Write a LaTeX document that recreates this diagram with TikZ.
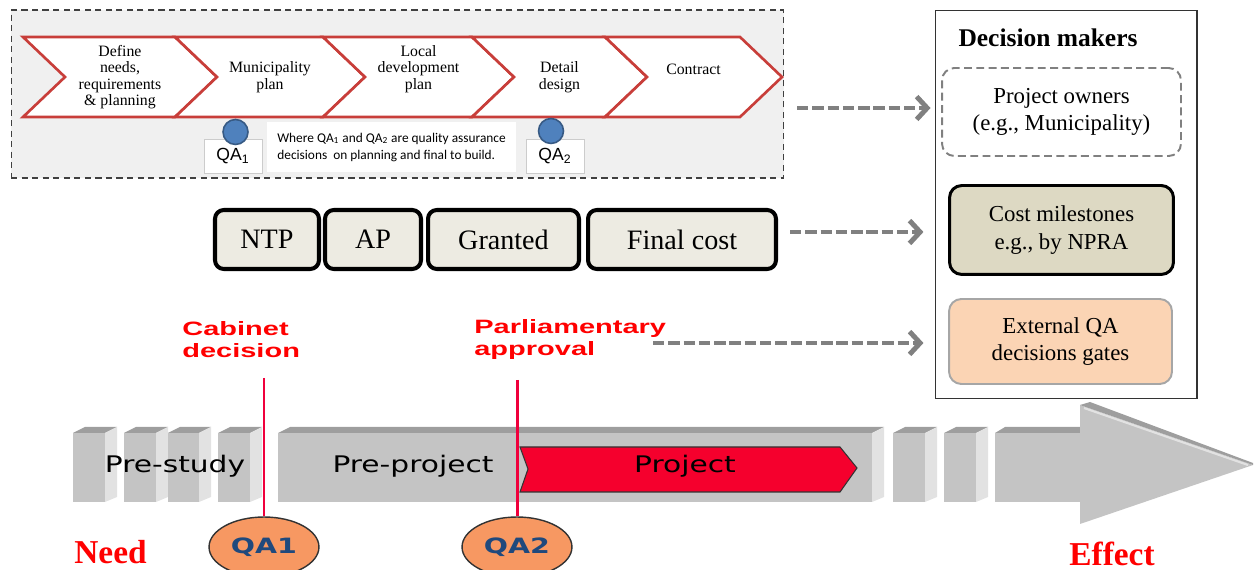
\documentclass[tikz,border=0pt]{standalone}
\usepackage{fontspec}
\setmainfont{Liberation Serif}
\newfontfamily\arialfont{Liberation Sans}
\newfontfamily\calibrifont{Carlito}
\newfontfamily\redlabelfont[FakeStretch=1.5]{Liberation Sans}
\newfontfamily\phasefont[FakeStretch=1.3]{DejaVu Sans}
\newfontfamily\qafont[FakeStretch=1.35]{DejaVu Sans}
\usetikzlibrary{arrows.meta,shapes.geometric,positioning}

\definecolor{chevred}{RGB}{200,62,58}
\definecolor{dotblue}{RGB}{79,129,189}
\definecolor{costfill}{RGB}{237,235,226}
\definecolor{milefill}{RGB}{221,217,195}
\definecolor{extfill}{RGB}{251,212,180}
\definecolor{arrowgray}{RGB}{128,128,128}
\definecolor{qared}{RGB}{240,0,60}
\definecolor{qaorange}{RGB}{247,152,98}
\definecolor{qablue}{RGB}{31,73,125}
\definecolor{projred}{RGB}{245,0,45}
\definecolor{barfront}{RGB}{196,196,196}
\definecolor{bartop}{RGB}{158,158,158}
\definecolor{barside}{RGB}{226,226,226}

% one grey block of the phase bar: front, top face, side face
\newcommand\greyblock[2]{%
  \fill[barfront] (#1,433) rectangle (#2,502);
  \fill[bartop] (#1,433) -- (#1+12,427) -- (#2+12,427) -- (#2,433) -- cycle;
  \fill[barside] (#2,433) -- (#2+12,427) -- (#2+12,497) -- (#2,502) -- cycle;}

\begin{document}
\begin{tikzpicture}[x=0.02cm, y=-0.02cm,
  chevron/.style={draw=chevred, line width=1.5pt, fill=white, line join=miter},
  steplabel/.style={align=center, font=\fontsize{9}{9.4}\selectfont},
  qadot/.style={circle, draw=dotblue!70!black, line width=0.9pt, fill=dotblue, minimum size=0.5cm, inner sep=0pt},
  qabox/.style={draw=black!20, fill=white, minimum width=1.16cm, minimum height=0.68cm, font=\arialfont\fontsize{10}{11}\selectfont},
  costbox/.style={draw=black, line width=2.3pt, rounded corners=5pt, fill=costfill, minimum height=1.18cm, font=\fontsize{16}{18}\selectfont},
  makerbox/.style={rounded corners=7pt, align=center, font=\fontsize{13}{15.5}\selectfont},
  flowarrow/.style={draw=arrowgray, line width=2.8pt, dash pattern=on 6.5pt off 2.2pt, -{Straight Barb[length=6pt,width=13pt]}},
  redlabel/.style={anchor=west, align=left, inner sep=0pt, text=red, font=\redlabelfont\bfseries\fontsize{11}{12.5}\selectfont},
  qaline/.style={draw=qared, line width=1.7pt},
  qagate/.style={ellipse, draw=black!80, line width=0.8pt, fill=qaorange, minimum width=2cm, minimum height=1.2cm, text=qablue, font=\qafont\bfseries\fontsize{12}{14}\selectfont},
  phase/.style={font=\phasefont\fontsize{13}{15}\selectfont},
  endlabel/.style={anchor=base, text=red, font=\bfseries\fontsize{19}{22}\selectfont}
]
\useasboundingbox (0,0) rectangle (1254,570);

% planning steps
\node (phases) [draw=black!75, line width=0.6pt, dash pattern=on 3.5pt off 2.5pt, fill=black!6, minimum width=15.46cm, minimum height=3.36cm, inner sep=0pt] at (397.5,94) {};

\foreach \x/\w/\ly/\txt [count=\i] in {23/152/77/{Define\\needs,\\requirements\\\& planning}, 175/148/77/{Municipality\\plan}, 323/149/69/{Local\\development\\plan}, 472/133/77/{Detail\\design}, 605/135/69/{Contract}}{
  \draw[chevron] (\x,37) -- ++(\w,0) -- ++(42,40) -- ++(-42,40) -- ++(-\w,0) -- ++(42,-40) -- cycle;
  \node (step\i) [steplabel] at (\x+\w/2+21,\ly) {\txt};
}

\node (qa1box) [qabox] at (233,156.5) {QA\textsubscript{1}};
\node (qa1dot) [qadot] at (235.5,132) {};
\node (qa2box) [qabox] at (555,156.5) {QA\textsubscript{2}};
\node (qa2dot) [qadot] at (551,131) {};
\node (note) [fill=white, anchor=west, align=left, inner xsep=0.2cm, minimum height=1cm, font=\calibrifont\fontsize{7.6}{10}\selectfont] at (267,147.5) {Where QA\textsubscript{1} and QA\textsubscript{2} are quality assurance\\decisions\ \ on planning and final to build.};

% cost milestones
\node (ntp) [costbox, minimum width=2.08cm] at (267,239.5) {NTP};
\node (ap) [costbox, minimum width=1.92cm] at (373,239.5) {AP};
\node (granted) [costbox, minimum width=3.02cm] at (503.5,239.5) {Granted};
\node (final) [costbox, minimum width=3.76cm] at (682,239.5) {Final cost};

% decision makers
\node (makers) [draw=black!80, line width=0.6pt, minimum width=5.24cm, minimum height=7.78cm] at (1066,204.5) {};
\node (makerstitle) [anchor=base, font=\bfseries\fontsize{14.5}{17}\selectfont] at (1048,47) {Decision makers};
\node (owners) [makerbox, draw=black!50, line width=1.1pt, dash pattern=on 4.5pt off 2.5pt, minimum width=4.78cm, minimum height=1.76cm] at (1061.5,112) {Project owners\\(e.g., Municipality)};
\node (milestones) [makerbox, draw=black, line width=1.7pt, fill=milefill, minimum width=4.48cm, minimum height=1.78cm] at (1061.5,230) {Cost milestones\\e.g., by NPRA};
\node (external) [makerbox, draw=black!35, line width=1.1pt, fill=extfill, minimum width=4.46cm, minimum height=1.7cm] at (1060.5,341.5) {External QA\\decisions gates};

\coordinate (ownersfrom) at (797,108);
\coordinate (costfrom) at (790,232);
\coordinate (gatesfrom) at (653,343);
\draw[flowarrow, shorten >=6pt] (ownersfrom) -- (ownersfrom -| owners.west);
\draw[flowarrow, shorten >=14pt] (costfrom) -- (costfrom -| milestones.west);
\draw[flowarrow, shorten >=14pt] (gatesfrom) -- (gatesfrom -| external.west);

\node (cabinet) [redlabel] at (182,339.5) {Cabinet\\decision};
\node (parliament) [redlabel] at (474,339.5) {Parliamentary\\approval};

% phase bar
\foreach \a/\b in {73/105,124/156,168/199,218/250,278/872,893/925,944/976}{\greyblock{\a}{\b}}
\fill[barfront] (995,433) rectangle (1080,502);
\fill[bartop] (995,433) -- (1005,427) -- (1080,427) -- (1080,433) -- cycle;
\fill[barfront] (1080,405) -- (1253,465) -- (1080,524) -- cycle;
\fill[bartop] (1080,405) -- (1090,402) -- (1253,463) -- (1253,465) -- cycle;
\draw[barside, line width=1.2pt] (1084,408) -- (1248,465);

\draw[fill=projred, draw=black!80, line width=0.6pt] (520,447) -- (840,447) -- (857,468) -- (840,492) -- (520,492) -- (528,469) -- cycle;

\node (prestudy) [phase] at (175,466) {Pre-study};
\node (preproject) [phase] at (413,466) {Pre-project};
\node (project) [phase] at (685,466) {Project};

% QA gates
\node (gate1) [qagate] at (264,547) {QA1};
\node (gate2) [qagate] at (517,547) {QA2};
\coordinate (cabinetline) at (264,378);
\coordinate (parliamentline) at (517,380);
\draw[qaline] (cabinetline) -- (gate1.north);
\draw[qaline] (parliamentline) -- (gate2.north);

\node (need) [endlabel] at (110.5,563) {Need};
\node (effect) [endlabel] at (1112,565) {Effect};

\end{tikzpicture}
\end{document}
